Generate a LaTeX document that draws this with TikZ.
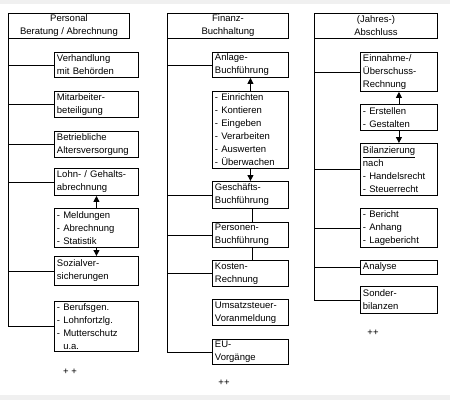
\documentclass[tikz,border=0pt]{standalone}
\usepackage{fontspec}
\setmainfont{Liberation Sans}
\usetikzlibrary{arrows.meta}
\newcommand{\fs}{\fontsize{9.5}{13}\selectfont}
\tikzset{
  every path/.style={line width=0.9pt},
  hd/.style={draw, anchor=north west, align=center, inner sep=0pt, font=\fs, minimum height=25pt},
  bxA/.style={draw, anchor=north west, align=left, inner xsep=2.5pt, inner ysep=0pt, font=\fs, text width=79pt},
  bxB/.style={draw, anchor=north west, align=left, inner xsep=2.5pt, inner ysep=0pt, font=\fs, text width=71pt},
  bxC/.style={draw, anchor=north west, align=left, inner xsep=2.5pt, inner ysep=0pt, font=\fs, text width=72pt},
  arr/.style={-{Triangle[width=6pt,length=6pt]}},
  plus/.style={font=\fs, inner sep=0pt}
}
\begin{document}
\begin{tikzpicture}[x=1pt,y=-1pt]
\useasboundingbox (0,0) rectangle (450,400);
\fill[black!6] (0,0) rectangle (450,400);
\fill[white] (0,4) rectangle (450,395);

% ---------- column 1
\node[hd, minimum width=121pt] (h1) at (8,13) {Personal\\Beratung / Abrechnung};
\node[bxA, minimum height=25pt] (a1) at (54,52) {Verhandlung\\mit Behörden};
\node[bxA, minimum height=26pt] (a2) at (54,91) {Mitarbeiter-\\beteiligung};
\node[bxA, minimum height=26pt] (a3) at (54,131) {Betriebliche\\Altersversorgung};
\node[bxA, minimum height=27pt] (a4) at (54,168) {Lohn- / Gehalts-\\abrechnung};
\node[bxA, minimum height=39pt] (a5) at (54,208) {- Meldungen\\- Abrechnung\\- Statistik};
\node[bxA, minimum height=29pt] (a6) at (54,256) {Sozialver-\\sicherungen};
\node[bxA, minimum height=50pt] (a7) at (54,301) {- Berufsgen.\\- Lohnfortzlg.\\- Mutterschutz\\\phantom{- }u.a.};
\node[plus] (p1) at (70,372) {+ +};

\draw (h1.south west) |- (a7.west);
\foreach \n in {a1,a2,a3,a4,a6} \draw (h1.south west |- \n.west) -- (\n.west);
\draw[arr] (a5.north) -- (a4.south);
\draw[arr] (a5.south) -- (a6.north);

% ---------- column 2
\node[hd, minimum width=121pt] (h2) at (167,13) {Finanz-\\Buchhaltung};
\node[bxB, minimum height=25pt] (b1) at (212,52) {Anlage-\\Buchführung};
\node[bxB, minimum height=77pt] (b2) at (212,91) {- Einrichten\\- Kontieren\\- Eingeben\\- Verarbeiten\\- Auswerten\\- Überwachen};
\node[bxB, minimum height=27pt] (b3) at (212,181) {Geschäfts-\\Buchführung};
\node[bxB, minimum height=25pt] (b4) at (212,222) {Personen-\\Buchführung};
\node[bxB, minimum height=26pt] (b5) at (212,260) {Kosten-\\Rechnung};
\node[bxB, minimum height=26pt] (b6) at (212,299) {Umsatzsteuer-\\Voranmeldung};
\node[bxB, minimum height=25pt] (b7) at (212,339) {EU-\\Vorgänge};
\node[plus] (p2) at (224,383) {++};

\draw (h2.south west) |- (b7.west);
\foreach \n in {b1,b3,b4,b5} \draw (h2.south west |- \n.west) -- (\n.west);
\draw[arr] (b2.north) -- (b1.south);
\draw[arr] (b2.south) -- (b3.north);
\draw ([xshift=2pt]b3.south) -- ([xshift=2pt]b4.north);
\draw ([xshift=2pt]b4.south) -- ([xshift=2pt]b5.north);

% ---------- column 3
\node[hd, minimum width=123pt] (h3) at (314,13) {(Jahres-)\\Abschluss};
\node[bxC, minimum height=39pt] (c1) at (360,52) {Einnahme-/\\Überschuss-\\Rechnung};
\node[bxC, minimum height=26pt] (c2) at (360,104) {- Erstellen\\- Gestalten};
\node[bxC, minimum height=52pt] (c3) at (360,143) {\underline{Bilanzierung}\\nach\\- Handelsrecht\\- Steuerrecht};
\node[bxC, minimum height=39pt] (c4) at (360,208) {- Bericht\\- Anhang\\- Lagebericht};
\node[bxC, minimum height=14pt] (c5) at (360,260) {Analyse};
\node[bxC, minimum height=27pt] (c6) at (360,286) {Sonder-\\bilanzen};
\node[plus] (p3) at (373,333) {++};

\draw (h3.south west) |- (c6.west);
\foreach \n in {c1,c3,c4,c5} \draw (h3.south west |- \n.west) -- (\n.west);
\draw[arr] (c2.north) -- (c1.south);
\draw[arr] (c2.south) -- (c3.north);
\end{tikzpicture}
\end{document}
